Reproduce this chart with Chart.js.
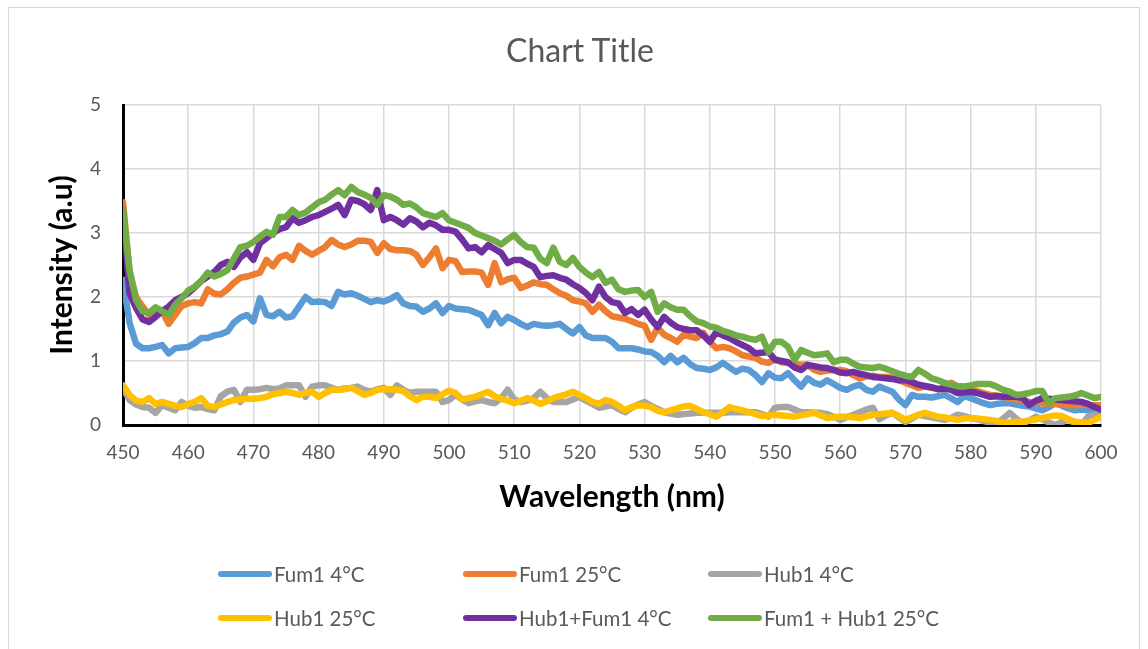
<!DOCTYPE html>
<html>
<head>
<meta charset="utf-8">
<script src="https://cdn.jsdelivr.net/npm/chart.js@4.4.1/dist/chart.umd.min.js"></script>
<style>
  body { margin: 0; background: #fff; font-family: Lato, "Open Sans", sans-serif; }
  #frame { position: absolute; left: 8px; top: 7px; width: 1132px; height: 660px; border: 1px solid #d9d9d9; box-sizing: border-box; }
  #box { position: absolute; left: 0; top: 0; width: 1148px; height: 649px; }
  #title { position: absolute; left: 12px; width: 1136px; top: 31px; line-height: 38px; text-align: center; font-size: 32px; color: #595959; }
  .item { position: absolute; display: flex; align-items: center; height: 26px; font-size: 20.5px; color: #595959; white-space: nowrap; }
  .sw { width: 54px; height: 6px; border-radius: 3px; margin-right: 2px; }
</style>
</head>
<body>
<div id="frame"></div>
<div id="box"><canvas id="spectra"></canvas></div>
<div id="title">Chart Title</div>
<div id="legend"></div>
<script>
// longitudes de onda (nm)
var wavelengths = [];
for (var w = 450; w <= 600; w++) wavelengths.push(w);

var seriesNames = ['Fum1 4°C', 'Fum1 25°C', 'Hub1 4°C', 'Hub1 25°C', 'Hub1+Fum1 4°C', 'Fum1 + Hub1 25°C'];
var seriesColors = ['#5B9BD5', '#ED7D31', '#A5A5A5', '#FFC000', '#7030A0', '#70AD47'];

var fum1_4 = [
  2.27, 1.6, 1.27, 1.2, 1.2, 1.22, 1.25, 1.12, 1.2, 1.21,
  1.22, 1.28, 1.36, 1.36, 1.4, 1.42, 1.46, 1.6, 1.68, 1.72,
  1.62, 1.98, 1.72, 1.7, 1.77, 1.68, 1.7, 1.85, 2.0, 1.92,
  1.93, 1.92, 1.86, 2.08, 2.04, 2.06, 2.02, 1.97, 1.92, 1.95,
  1.93, 1.97, 2.03, 1.9, 1.86, 1.85, 1.77, 1.82, 1.9, 1.75,
  1.86, 1.82, 1.81, 1.8, 1.76, 1.72, 1.56, 1.75, 1.59, 1.69,
  1.64, 1.58, 1.53, 1.58, 1.56, 1.55, 1.56, 1.58, 1.5, 1.43,
  1.53, 1.4, 1.36, 1.36, 1.36, 1.3, 1.2, 1.2, 1.2, 1.18,
  1.15, 1.14, 1.08, 0.98, 1.08, 0.98, 1.05, 0.95, 0.89, 0.88,
  0.86, 0.9, 0.97, 0.9, 0.83, 0.88, 0.86, 0.78, 0.67, 0.81,
  0.74, 0.73, 0.81, 0.7, 0.6, 0.73, 0.66, 0.63, 0.7, 0.64,
  0.58, 0.55, 0.6, 0.63, 0.55, 0.52, 0.6, 0.56, 0.52, 0.4,
  0.31, 0.47, 0.44, 0.44, 0.43, 0.45, 0.47, 0.42, 0.36, 0.45,
  0.42, 0.38, 0.34, 0.31, 0.33, 0.34, 0.34, 0.32, 0.3, 0.29,
  0.26, 0.23, 0.28, 0.34, 0.3, 0.26, 0.23, 0.24, 0.23, 0.22,
  0.2
];
var fum1_25 = [
  3.48, 2.4, 2.0, 1.85, 1.72, 1.8, 1.78, 1.58, 1.72, 1.86,
  1.9, 1.92, 1.9, 2.12, 2.05, 2.04, 2.12, 2.22, 2.3, 2.32,
  2.35, 2.38, 2.58, 2.48, 2.62, 2.66, 2.58, 2.8, 2.72, 2.66,
  2.72, 2.78, 2.89, 2.82, 2.78, 2.82, 2.88, 2.88, 2.86, 2.69,
  2.84, 2.75, 2.73, 2.73, 2.72, 2.66, 2.5, 2.62, 2.76, 2.45,
  2.58, 2.56, 2.39, 2.4, 2.4, 2.38, 2.19, 2.53, 2.23, 2.28,
  2.3, 2.14, 2.18, 2.23, 2.2, 2.19, 2.12, 2.06, 2.02, 1.95,
  1.93, 1.9, 1.77, 1.88, 1.78, 1.7, 1.68, 1.66, 1.62, 1.58,
  1.55, 1.33, 1.52, 1.41, 1.36, 1.3, 1.41, 1.38, 1.36, 1.44,
  1.3, 1.2, 1.22, 1.2, 1.15, 1.09, 1.07, 1.05, 0.99, 0.97,
  1.03, 0.98, 0.97, 0.95, 0.94, 0.94, 0.86, 0.83, 0.85, 0.86,
  0.86, 0.84, 0.78, 0.73, 0.76, 0.77, 0.75, 0.75, 0.74, 0.7,
  0.66, 0.62, 0.58, 0.6, 0.58, 0.56, 0.6, 0.66, 0.6, 0.55,
  0.56, 0.53, 0.5, 0.47, 0.46, 0.44, 0.42, 0.4, 0.38, 0.36,
  0.35, 0.34, 0.33, 0.33, 0.32, 0.31, 0.31, 0.32, 0.31, 0.31,
  0.31
];
var hub1_4 = [
  0.58, 0.39, 0.32, 0.28, 0.27, 0.19, 0.31, 0.27, 0.23, 0.36,
  0.3, 0.27, 0.28, 0.25, 0.23, 0.45, 0.52, 0.55, 0.36, 0.55,
  0.55, 0.56, 0.58, 0.56, 0.57, 0.62, 0.62, 0.62, 0.44, 0.6,
  0.62, 0.62, 0.58, 0.55, 0.57, 0.58, 0.6, 0.55, 0.52, 0.56,
  0.58, 0.47, 0.62, 0.55, 0.5, 0.52, 0.52, 0.52, 0.52, 0.36,
  0.39, 0.47, 0.4, 0.34, 0.37, 0.39, 0.36, 0.34, 0.42, 0.55,
  0.4, 0.36, 0.38, 0.42, 0.52, 0.42, 0.36, 0.36, 0.36, 0.4,
  0.44, 0.38, 0.33, 0.27, 0.29, 0.31, 0.25, 0.2, 0.27, 0.32,
  0.36, 0.3, 0.25, 0.2, 0.18, 0.16, 0.17, 0.18, 0.19, 0.19,
  0.19, 0.19, 0.19, 0.2, 0.2, 0.2, 0.2, 0.2, 0.17, 0.13,
  0.27, 0.28, 0.28, 0.24, 0.2, 0.2, 0.19, 0.19, 0.17, 0.13,
  0.08, 0.12, 0.16, 0.2, 0.24, 0.27, 0.09, 0.15, 0.19, 0.12,
  0.05, 0.1, 0.16, 0.14, 0.12, 0.1, 0.08, 0.11, 0.16, 0.14,
  0.11, 0.09, 0.06, 0.04, 0.03, 0.1, 0.19, 0.1, 0.03, 0.07,
  0.13, 0.09, 0.04, 0.0, 0.05, 0.08, 0.03, 0.0, 0.13, 0.16,
  0.19
];
var hub1_25 = [
  0.62, 0.47, 0.38, 0.36, 0.42, 0.33, 0.36, 0.33, 0.3, 0.28,
  0.33, 0.36, 0.42, 0.3, 0.28, 0.32, 0.36, 0.39, 0.4, 0.41,
  0.41, 0.42, 0.44, 0.48, 0.5, 0.52, 0.5, 0.47, 0.5, 0.52,
  0.44, 0.5, 0.55, 0.55, 0.56, 0.58, 0.53, 0.47, 0.5, 0.55,
  0.56, 0.56, 0.55, 0.53, 0.45, 0.39, 0.44, 0.44, 0.42, 0.48,
  0.54, 0.5, 0.4, 0.42, 0.44, 0.48, 0.52, 0.45, 0.41, 0.38,
  0.34, 0.38, 0.42, 0.38, 0.33, 0.37, 0.42, 0.45, 0.48, 0.52,
  0.47, 0.42, 0.36, 0.33, 0.39, 0.36, 0.3, 0.23, 0.28, 0.31,
  0.3, 0.28, 0.22, 0.2, 0.23, 0.26, 0.29, 0.3, 0.25, 0.2,
  0.17, 0.13, 0.2, 0.28, 0.25, 0.23, 0.2, 0.17, 0.14, 0.15,
  0.16, 0.15, 0.14, 0.13, 0.15, 0.17, 0.19, 0.15, 0.11, 0.12,
  0.13, 0.13, 0.12, 0.11, 0.13, 0.16, 0.17, 0.18, 0.19, 0.14,
  0.08, 0.12, 0.16, 0.19, 0.16, 0.13, 0.12, 0.1, 0.08, 0.1,
  0.11, 0.1, 0.09, 0.08, 0.06, 0.03, 0.04, 0.05, 0.05, 0.07,
  0.09, 0.11, 0.13, 0.15, 0.14, 0.09, 0.05, 0.04, 0.03, 0.08,
  0.13
];
var hubfum_4 = [
  3.36, 2.06, 1.83, 1.65, 1.61, 1.69, 1.78, 1.85, 1.95, 2.0,
  2.06, 2.15, 2.25, 2.32, 2.39, 2.5, 2.55, 2.47, 2.62, 2.7,
  2.58, 2.84, 2.92, 3.0, 3.06, 3.09, 3.23, 3.16, 3.2, 3.25,
  3.28, 3.33, 3.38, 3.44, 3.28, 3.52, 3.5, 3.45, 3.36, 3.67,
  3.2, 3.25, 3.2, 3.13, 3.23, 3.18, 3.09, 3.16, 3.12, 3.05,
  3.05, 3.02, 2.9, 2.76, 2.78, 2.7, 2.81, 2.75, 2.69, 2.53,
  2.58, 2.58, 2.52, 2.47, 2.31, 2.33, 2.34, 2.3, 2.27, 2.2,
  2.14, 2.06, 1.95, 2.16, 2.0, 1.92, 1.9, 1.75, 1.81, 1.72,
  1.8, 1.65, 1.53, 1.69, 1.6, 1.53, 1.5, 1.48, 1.48, 1.4,
  1.3, 1.45, 1.4, 1.36, 1.3, 1.25, 1.2, 1.12, 1.13, 1.14,
  1.02, 1.0, 0.98, 0.9, 0.86, 0.94, 0.92, 0.9, 0.89, 0.86,
  0.82, 0.81, 0.83, 0.8, 0.78, 0.75, 0.74, 0.73, 0.72, 0.7,
  0.7, 0.67, 0.63, 0.61, 0.59, 0.56, 0.57, 0.55, 0.5, 0.51,
  0.52, 0.5, 0.47, 0.44, 0.45, 0.44, 0.44, 0.44, 0.42, 0.31,
  0.38, 0.42, 0.41, 0.4, 0.39, 0.38, 0.37, 0.36, 0.33, 0.28,
  0.24
];
var fumhub_25 = [
  3.36, 2.42, 1.95, 1.78, 1.75, 1.84, 1.78, 1.72, 1.88, 1.98,
  2.1, 2.16, 2.25, 2.38, 2.32, 2.36, 2.42, 2.6, 2.78, 2.8,
  2.86, 2.94, 3.02, 2.97, 3.25, 3.25, 3.36, 3.28, 3.32, 3.4,
  3.48, 3.52, 3.6, 3.67, 3.59, 3.72, 3.64, 3.6, 3.55, 3.44,
  3.59, 3.57, 3.52, 3.44, 3.46, 3.4, 3.31, 3.28, 3.25, 3.31,
  3.2, 3.16, 3.12, 3.08, 3.0, 2.96, 2.92, 2.88, 2.82, 2.9,
  2.97, 2.86, 2.78, 2.77, 2.6, 2.53, 2.77, 2.55, 2.5, 2.61,
  2.47, 2.38, 2.31, 2.39, 2.22, 2.27, 2.12, 2.08, 2.1, 2.11,
  2.0, 2.08, 1.77, 1.9, 1.84, 1.8, 1.8, 1.7, 1.62, 1.59,
  1.54, 1.52, 1.47, 1.44, 1.4, 1.38, 1.35, 1.33, 1.38, 1.14,
  1.3, 1.3, 1.22, 1.02, 1.17, 1.13, 1.09, 1.1, 1.12, 0.98,
  1.02, 1.02, 0.96, 0.91, 0.9, 0.89, 0.91, 0.88, 0.84, 0.8,
  0.77, 0.75, 0.86, 0.8, 0.73, 0.7, 0.66, 0.63, 0.61, 0.6,
  0.62, 0.64, 0.64, 0.64, 0.6, 0.55, 0.52, 0.47, 0.48, 0.5,
  0.53, 0.53, 0.34, 0.42, 0.43, 0.44, 0.46, 0.5, 0.46, 0.42,
  0.44
];

var yTicks = [0, 1, 2, 3, 4, 5];
var allSeries = [fum1_4, fum1_25, hub1_4, hub1_25, hubfum_4, fumhub_25];

var datasets = allSeries.map(function(values, i) {
  return {
    label: seriesNames[i],
    data: values,
    borderColor: seriesColors[i],
    backgroundColor: seriesColors[i],
    borderWidth: 6.5,
    borderJoinStyle: 'round',
    borderCapStyle: 'round',
    pointRadius: 0,
    tension: 0,
    order: allSeries.length - i   // como Excel: la última serie queda encima
  };
});

var ctx = document.getElementById('spectra').getContext('2d');
var chart = new Chart(ctx, {
  type: 'line',
  data: { labels: wavelengths, datasets: datasets },
  options: {
    responsive: true,
    maintainAspectRatio: false,
    animation: false,
    layout: { padding: { left: 44, right: 47, top: 105, bottom: 134 } },
    plugins: { legend: { display: false }, title: { display: false }, tooltip: { enabled: false } },
    scales: {
      x: {
        type: 'linear',
        min: 450,
        max: 600,
        afterFit: function(scale) { scale.height = 90; },
        ticks: { stepSize: 10, maxRotation: 0, autoSkip: false, padding: 16, color: '#595959', font: { family: 'Lato', size: 19 } },
        grid: { color: '#d9d9d9', lineWidth: 1.5, drawTicks: false },
        border: { color: '#000', width: 3 },
        title: { display: true, text: 'Wavelength (nm)', color: '#000', padding: { top: 0, bottom: 0 }, font: { family: 'Lato', size: 30, weight: 'bold' } }
      },
      y: {
        min: 0,
        max: 5,
        afterFit: function(scale) { scale.width = 79; },
        afterBuildTicks: function(scale) { scale.ticks = yTicks.map(function(v) { return { value: v }; }); },
        ticks: { padding: 22, color: '#595959', font: { family: 'Lato', size: 19 } },
        grid: { color: '#d9d9d9', lineWidth: 1.5, drawTicks: false },
        border: { color: '#000', width: 3 },
        title: { display: true, text: 'Intensity (a.u)', color: '#000', padding: { top: 0, bottom: 0 }, font: { family: 'Lato', size: 30, weight: 'bold' } }
      }
    }
  }
});

// leyenda en dos filas, tres columnas
var legendCols = [218, 463, 708];
var legendRows = [574, 618];
var legend = document.getElementById('legend');
seriesNames.forEach(function(name, i) {
  var item = document.createElement('div');
  item.className = 'item';
  item.style.left = legendCols[i % 3] + 'px';
  item.style.top = (legendRows[Math.floor(i / 3)] - 13) + 'px';
  var sw = document.createElement('span');
  sw.className = 'sw';
  sw.style.background = seriesColors[i];
  var txt = document.createElement('span');
  txt.textContent = name;
  item.appendChild(sw);
  item.appendChild(txt);
  legend.appendChild(item);
});
</script>
</body>
</html>
